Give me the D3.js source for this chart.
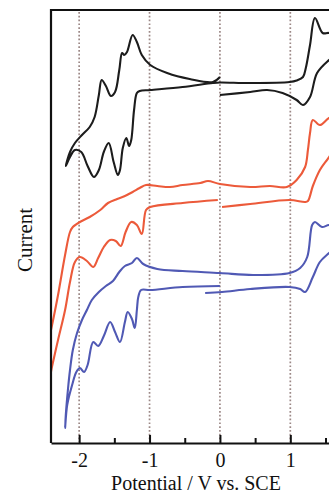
<html>
  <head>
    <script src="https://d3js.org/d3.v7.min.js"></script>
    <style>
      body {
        margin: 0;
        background: #fff;
      }
      text {
        font-family: "Liberation Serif", "Times New Roman", serif;
        fill: #111;
      }
      .grid line {
        stroke: #9c8886;
        stroke-width: 1.7;
        stroke-dasharray: 1.7, 2.1;
      }
      .cv {
        fill: none;
        stroke-width: 2.1;
        stroke-linejoin: round;
      }
    </style>
  </head>
  <body>
    <svg id="cv" width="329" height="495"></svg>

    <script>
      // potential (V vs SCE), current (arbitrary units)
      const blackCV = [
        [0.0, 34.8], [0.43, 35.1], [0.67, 35.3], [0.89, 35.0], [1.09, 34.3],
        [1.18, 33.8], [1.28, 34.6], [1.38, 37.0], [1.55, 38.3], [1.78, 39.5],
        [1.7, 40.5], [1.55, 41.0], [1.46, 41.0], [1.35, 42.5], [1.28, 39.8],
        [1.22, 37.5], [1.18, 36.6], [1.09, 36.25], [0.99, 36.1], [0.43, 36.0],
        [0.0, 36.05], [-0.1, 36.0], [-0.53, 35.6], [-0.99, 35.3], [-1.14, 35.2],
        [-1.18, 35.0], [-1.22, 33.3], [-1.26, 30.3], [-1.29, 29.7], [-1.33, 30.5],
        [-1.38, 29.5], [-1.42, 27.3], [-1.45, 26.8], [-1.51, 28.1], [-1.58, 30.0],
        [-1.65, 29.1], [-1.72, 27.3], [-1.79, 26.6], [-1.88, 27.7], [-1.97, 29.1],
        [-2.06, 29.3], [-2.13, 28.6], [-2.19, 27.7], [-2.13, 29.1], [-2.06, 30.0],
        [-1.96, 30.8], [-1.85, 31.6], [-1.78, 32.6], [-1.72, 34.8], [-1.68, 36.3],
        [-1.62, 35.7], [-1.55, 34.7], [-1.49, 35.1], [-1.43, 37.3], [-1.39, 39.0],
        [-1.36, 38.8], [-1.32, 39.1], [-1.24, 40.8], [-1.18, 40.1], [-1.11, 38.8],
        [-0.99, 37.8], [-0.75, 37.0], [-0.43, 36.4], [-0.1, 36.1], [0.0, 36.6]
      ];

      const redCV = [
        [-0.03, 24.3], [-0.53, 24.0], [-0.99, 23.6], [-1.05, 23.3], [-1.11, 20.9],
        [-1.18, 21.8], [-1.26, 22.1], [-1.34, 21.1], [-1.41, 19.7], [-1.48, 20.2],
        [-1.56, 20.3], [-1.65, 19.6], [-1.73, 18.5], [-1.8, 17.6], [-1.89, 18.2],
        [-1.99, 18.6], [-2.06, 18.1], [-2.13, 16.1], [-2.2, 13.3], [-2.3, 10.3],
        [-2.39, 7.5], [-2.44, 5.8], [-2.47, 6.3], [-2.44, 9.8], [-2.4, 11.3],
        [-2.37, 12.3], [-2.3, 14.8], [-2.2, 18.8], [-2.13, 21.1], [-2.09, 21.6],
        [-1.99, 22.1], [-1.85, 22.6], [-1.7, 23.3], [-1.59, 24.0], [-1.46, 24.4],
        [-1.35, 24.7], [-1.24, 25.1], [-1.14, 25.5], [-1.05, 25.8], [-0.89, 25.7],
        [-0.71, 25.6], [-0.53, 25.8], [-0.28, 26.0], [-0.17, 26.2], [0.0, 25.9],
        [0.43, 25.6], [0.71, 25.7], [0.95, 25.6], [1.09, 26.3], [1.21, 27.6],
        [1.25, 29.3], [1.28, 31.0], [1.32, 32.3], [1.42, 31.8], [1.55, 32.5],
        [1.78, 33.1], [1.7, 30.3], [1.55, 28.6], [1.42, 27.3], [1.32, 25.7],
        [1.25, 24.2], [1.21, 24.1], [0.99, 24.3], [0.43, 23.9], [0.03, 23.6]
      ];

      const blueCV = [
        [-0.21, 15.0], [0.03, 15.1], [0.43, 15.4], [0.99, 15.6], [1.14, 15.4],
        [1.21, 15.1], [1.32, 16.6], [1.42, 18.1], [1.55, 19.0], [1.78, 20.3],
        [1.7, 21.5], [1.55, 21.8], [1.45, 21.6], [1.35, 22.1], [1.31, 21.8],
        [1.24, 18.6], [1.14, 17.5], [0.99, 17.0], [0.47, 16.8], [0.0, 17.0],
        [-0.53, 17.2], [-0.89, 17.4], [-1.09, 17.9], [-1.18, 18.5], [-1.25, 18.0],
        [-1.35, 17.7], [-1.43, 17.1], [-1.52, 16.2], [-1.62, 15.7], [-1.72, 15.1],
        [-1.82, 14.3], [-1.89, 13.3], [-1.96, 12.3], [-2.03, 11.0], [-2.09, 9.3],
        [-2.13, 7.3], [-2.16, 5.3], [-2.19, 2.8], [-2.2, 1.5], [-2.17, 3.8],
        [-2.1, 5.8], [-2.04, 7.1], [-1.99, 7.5], [-1.93, 7.1], [-1.88, 7.8],
        [-1.8, 10.1], [-1.73, 9.7], [-1.65, 10.7], [-1.56, 12.1], [-1.49, 11.1],
        [-1.42, 10.1], [-1.35, 12.1], [-1.31, 13.1], [-1.25, 12.4], [-1.21, 11.5],
        [-1.18, 13.3], [-1.16, 14.6], [-1.12, 15.3], [-0.99, 15.3], [-0.53, 15.6],
        [0.0, 15.7]
      ];

      const xMajor = [-2, -1, 0, 1];
      const xMinor = [-1.5, -0.5, 0.5, 1.5];
      const xTitle = "Potential / V vs. SCE";
      const yTitle = "Current";

      const svg = d3.select("svg#cv");
      const margins = { top: 10, left: 51, bottom: 443, right: 341 };

      const xScale = d3.scaleLinear().domain([-2.4, 1.72]).range([margins.left, margins.right]);
      const yScale = d3.scaleLinear().domain([0, 43.3]).range([margins.bottom, margins.top]);

      svg.append("clipPath").attr("id", "plotclip")
        .append("rect")
        .attr("x", margins.left)
        .attr("y", margins.top)
        .attr("width", margins.right - margins.left)
        .attr("height", margins.bottom - margins.top);

      // dotted verticals at the whole volts
      svg.append("g").attr("class", "grid")
        .selectAll("line")
        .data(xMajor)
        .join("line")
        .attr("x1", (d) => xScale(d))
        .attr("x2", (d) => xScale(d))
        .attr("y1", margins.top + 2)
        .attr("y2", margins.bottom - 1);

      const line = d3.line()
        .x((d) => xScale(d[0]))
        .y((d) => yScale(d[1]))
        .curve(d3.curveCatmullRom.alpha(0.5));

      const curves = svg.append("g").attr("clip-path", "url(#plotclip)");
      curves.append("path").attr("class", "cv").attr("stroke", "#1c1c1c").attr("d", line(blackCV));
      curves.append("path").attr("class", "cv").attr("stroke", "#ec5a3a").attr("d", line(redCV));
      curves.append("path").attr("class", "cv").attr("stroke", "#5059b4").attr("d", line(blueCV));

      // frame
      svg.append("path")
        .attr("d", `M${margins.right},${margins.top}H${margins.left}V${margins.bottom}`)
        .attr("fill", "none")
        .attr("stroke", "#111")
        .attr("stroke-width", 2.2);

      const xAxis = d3.axisBottom(xScale)
        .tickValues(xMajor)
        .tickSizeInner(-8)
        .tickSizeOuter(0)
        .tickPadding(10)
        .tickFormat((d) => String(d));

      const xAxisMinor = d3.axisBottom(xScale)
        .tickValues(xMinor)
        .tickSizeInner(-5)
        .tickSizeOuter(0)
        .tickFormat("");

      const gx = svg.append("g").attr("transform", `translate(0,${margins.bottom})`).call(xAxis);
      const gm = svg.append("g").attr("transform", `translate(0,${margins.bottom})`).call(xAxisMinor);
      gm.select(".domain").remove();

      svg.selectAll(".domain").attr("stroke", "#111").attr("stroke-width", 2.2);
      svg.selectAll(".tick line").attr("stroke", "#111").attr("stroke-width", 2);
      gx.selectAll(".tick text")
        .attr("font-family", "Liberation Serif")
        .attr("font-size", 20)
        .attr("fill", "#111");

      svg.append("text")
        .attr("x", 196)
        .attr("y", 490)
        .attr("text-anchor", "middle")
        .attr("font-size", 20)
        .text(xTitle);

      svg.append("text")
        .attr("transform", "translate(32,240) rotate(-90)")
        .attr("text-anchor", "middle")
        .attr("font-size", 21)
        .text(yTitle);
    </script>
  </body>
</html>
